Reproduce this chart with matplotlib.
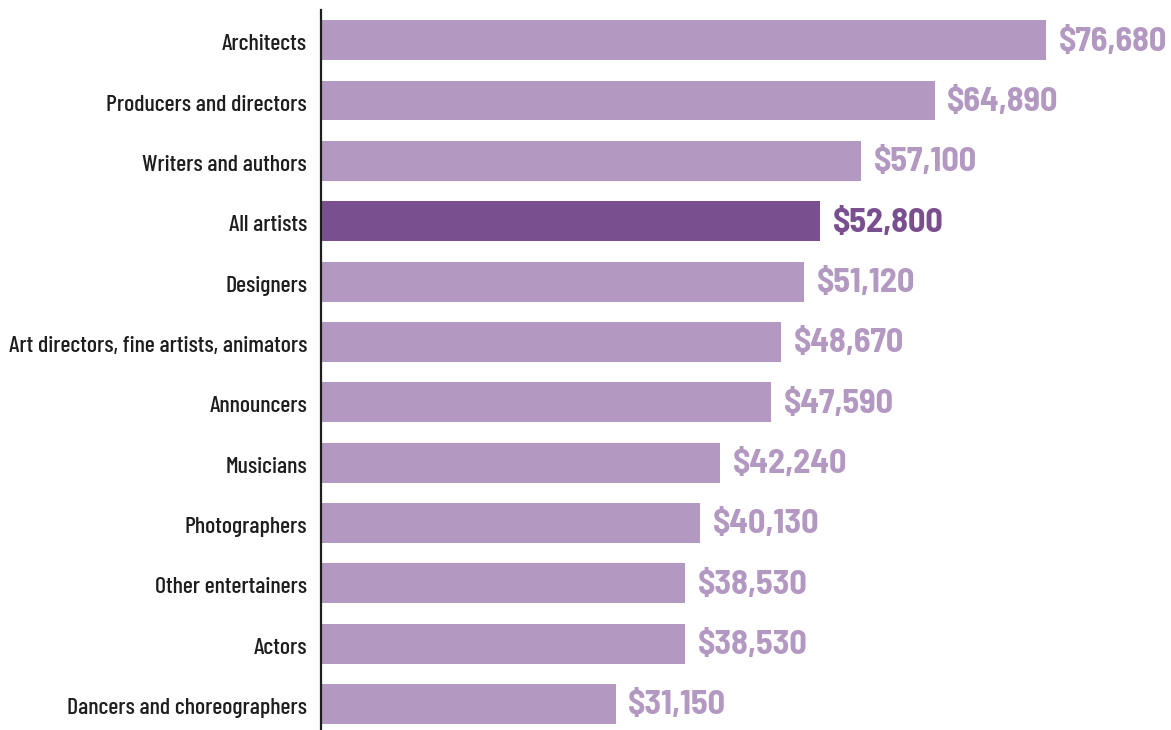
import matplotlib
matplotlib.use("Agg")
import matplotlib.pyplot as plt
from matplotlib.transforms import ScaledTranslation

categories = ["Architects", "Producers and directors", "Writers and authors", "All artists",
              "Designers", "Art directors, fine artists, animators", "Announcers", "Musicians",
              "Photographers", "Other entertainers", "Actors", "Dancers and choreographers"]
values = [76680, 64890, 57100, 52800, 51120, 48670, 47590, 42240, 40130, 38530, 38530, 31150]
highlight = "All artists"

LIGHT = "#B399C1"
DARK = "#7A4F8F"

fig = plt.figure(figsize=(11.71, 7.30), dpi=100)
ax = fig.add_axes([321/1171, 0, 850/1171, 720/730])

colors = [DARK if c == highlight else LIGHT for c in categories]
y = list(range(len(categories)))
ax.barh(y, values, height=0.66, color=colors)

ax.set_ylim(11.43, -0.5)
ax.set_xlim(0, 89900)

for yi, v, c in zip(y, values, colors):
    ax.annotate(f"${v:,}", xy=(v, yi), xytext=(9, -1), textcoords="offset points",
                ha="left", va="center", fontsize=24.7, fontweight=700,
                color=c, family=["Barlow Semi Condensed", "DejaVu Sans"])

ax.set_yticks(y)
ax.set_yticklabels(categories, family=["Barlow Condensed", "DejaVu Sans"],
                   fontweight=500, fontsize=17.2, color="#1e1e1e")
ax.tick_params(axis="y", length=0, pad=10)
offset = ScaledTranslation(0, -2/100, fig.dpi_scale_trans)
for lbl in ax.get_yticklabels():
    lbl.set_transform(lbl.get_transform() + offset)
ax.set_xticks([])
for s in ["top", "right", "bottom"]:
    ax.spines[s].set_visible(False)
ax.spines["left"].set_linewidth(1.6)
ax.spines["left"].set_color("#1e1e1e")

fig.savefig("out.png", dpi=100)
